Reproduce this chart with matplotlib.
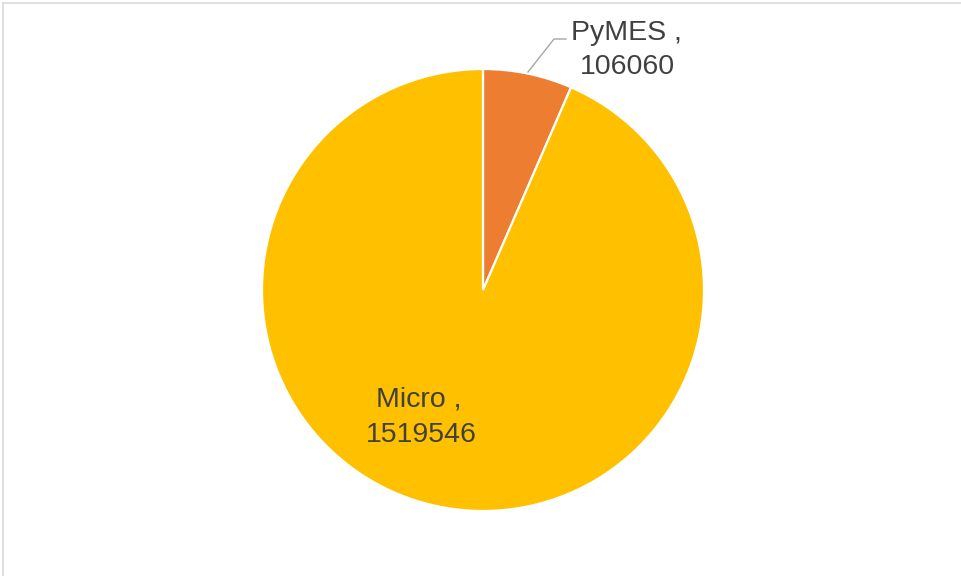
import matplotlib
matplotlib.use("Agg")
import matplotlib.pyplot as plt
from matplotlib.lines import Line2D

categories = ["PyMES", "Micro"]
values = [106060, 1519546]
colors = ["#ED7D31", "#FFC000"]

W, H = 961, 576
fig = plt.figure(figsize=(W / 100, H / 100), dpi=100)
ax = fig.add_axes([0, 0, 1, 1])
ax.set_xlim(0, W)
ax.set_ylim(0, H)
ax.set_aspect("equal")
ax.axis("off")

def py(y):
    return H - y

ax.pie(values, colors=colors, startangle=90, counterclock=False,
       center=(483, py(290)), radius=221,
       wedgeprops=dict(edgecolor="white", linewidth=1.6), frame=True)
ax.set_xlim(0, W)
ax.set_ylim(0, H)
ax.axis("off")

font = dict(family=["Liberation Sans", "DejaVu Sans"], fontsize=20.5, color="#404040")
# PyMES label
ax.text(626, py(40), f"{categories[0]} ,", ha="center", va="baseline", **font)
ax.text(627, py(74), f"{values[0]}", ha="center", va="baseline", **font)
# Micro label
ax.text(419, py(407), f"{categories[1]} ,", ha="center", va="baseline", **font)
ax.text(421, py(442), f"{values[1]}", ha="center", va="baseline", **font)

# leader line
ax.plot([528, 554, 566], [py(72), py(39), py(39)], color="#A6A6A6", lw=1.0)

# border (top and left visible)
fig.add_artist(Line2D([2.5 / W, 1], [1 - 2.5 / H, 1 - 2.5 / H], color="#D9D9D9", lw=1.2, transform=fig.transFigure))
fig.add_artist(Line2D([2.5 / W, 2.5 / W], [0, 1 - 2.5 / H], color="#D9D9D9", lw=1.2, transform=fig.transFigure))

fig.savefig("out.png", dpi=100, facecolor="white")
